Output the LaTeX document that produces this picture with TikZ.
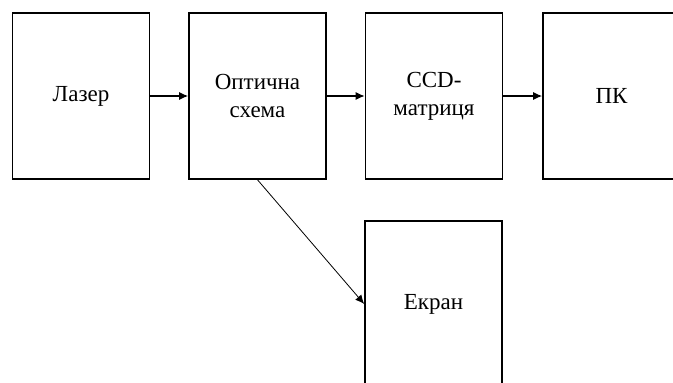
\documentclass[tikz,border=0pt]{standalone}
\usepackage{fontspec}
\setmainfont{Liberation Serif}
\usetikzlibrary{arrows.meta}
\tikzset{
  blockbox/.style={draw=black, line width=1.6pt, rectangle, minimum width=137pt, minimum height=166pt, align=center, inner sep=0pt, font=\fontsize{23}{28}\selectfont},
  flow/.style={line width=1.3pt, -{Latex[length=9pt,width=8pt]}},
  thinflow/.style={line width=0.8pt, -{Latex[length=9pt,width=8pt]}}
}
\begin{document}
\begin{tikzpicture}[x=1pt,y=-1pt]
\useasboundingbox (0,0) rectangle (673,383);
\clip (0,0) rectangle (673,383);
\node[blockbox] (laser) at (81,96) {Лазер};
\node[blockbox] (optic) at (257.5,96) {Оптична\\схема};
\node[blockbox] (ccd) at (434,96) {CCD-\\матриця};
\node[blockbox] (pc) at (611.5,96) {ПК};
\node[blockbox] (screen) at (433.5,304) {Екран};
\draw[flow] (laser) -- (optic);
\draw[flow] (optic) -- (ccd);
\draw[flow] (ccd) -- (pc);
\draw[thinflow] (optic.south) -- (screen.west);
\end{tikzpicture}
\end{document}
